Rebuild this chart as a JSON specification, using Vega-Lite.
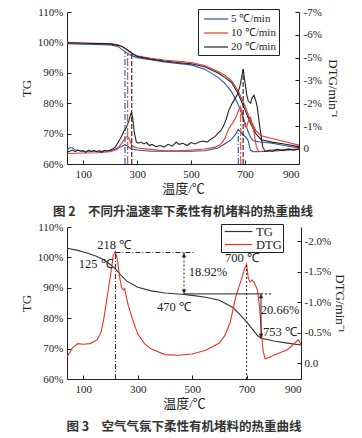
{
  "$schema": "https://vega.github.io/schema/vega-lite/v6.json",
  "padding": {"left": 20, "top": 6, "right": 6, "bottom": 0},
  "spacing": 2,
  "background": "white",
  "resolve": {"scale": {"color": "independent", "strokeDash": "independent", "shape": "independent", "x": "independent"}, "legend": {"color": "independent", "strokeDash": "independent", "shape": "independent"}},
  "config": {
    "view": {"stroke": null},
    "axis": {"labelFont": "Liberation Serif", "labelFontSize": 11, "labelColor": "#222", "titleFont": "Liberation Serif, Noto Sans CJK SC", "titleFontSize": 13, "titleFontWeight": "normal", "titleColor": "#222", "domainColor": "#222", "tickColor": "#222", "grid": false, "tickSize": -4, "labelPadding": 8},
    "legend": {"labelFont": "Liberation Serif", "labelFontSize": 12, "labelColor": "#222", "symbolStrokeWidth": 1.2, "rowPadding": 1, "strokeColor": "#222", "fillColor": "white"},
    "title": {"font": "Noto Sans CJK SC", "fontSize": 12.5, "fontWeight": "bold", "color": "#333"}
  },
  "datasets": {
    "tg2": [
      {"rate":"5 ℃/min","T":40,"TG":99.6},{"rate":"5 ℃/min","T":100,"TG":99.4},{"rate":"5 ℃/min","T":150,"TG":99.3},{"rate":"5 ℃/min","T":200,"TG":99.2},{"rate":"5 ℃/min","T":230,"TG":98.6},{"rate":"5 ℃/min","T":250,"TG":97.3},{"rate":"5 ℃/min","T":270,"TG":96.0},{"rate":"5 ℃/min","T":300,"TG":95.0},{"rate":"5 ℃/min","T":350,"TG":94.3},{"rate":"5 ℃/min","T":400,"TG":93.6},{"rate":"5 ℃/min","T":450,"TG":93.1},{"rate":"5 ℃/min","T":500,"TG":92.6},{"rate":"5 ℃/min","T":550,"TG":91.2},{"rate":"5 ℃/min","T":600,"TG":88.5},{"rate":"5 ℃/min","T":625,"TG":86.5},{"rate":"5 ℃/min","T":650,"TG":83.8},{"rate":"5 ℃/min","T":675,"TG":79.5},{"rate":"5 ℃/min","T":690,"TG":76.0},{"rate":"5 ℃/min","T":700,"TG":73.6},{"rate":"5 ℃/min","T":710,"TG":71.0},{"rate":"5 ℃/min","T":720,"TG":68.8},{"rate":"5 ℃/min","T":730,"TG":67.7},{"rate":"5 ℃/min","T":750,"TG":67.3},{"rate":"5 ℃/min","T":800,"TG":66.8},{"rate":"5 ℃/min","T":850,"TG":66.0},{"rate":"5 ℃/min","T":900,"TG":65.3},
      {"rate":"10 ℃/min","T":40,"TG":100.0},{"rate":"10 ℃/min","T":100,"TG":99.8},{"rate":"10 ℃/min","T":150,"TG":99.7},{"rate":"10 ℃/min","T":200,"TG":99.6},{"rate":"10 ℃/min","T":230,"TG":99.2},{"rate":"10 ℃/min","T":250,"TG":98.3},{"rate":"10 ℃/min","T":265,"TG":97.3},{"rate":"10 ℃/min","T":280,"TG":96.3},{"rate":"10 ℃/min","T":300,"TG":95.6},{"rate":"10 ℃/min","T":350,"TG":94.8},{"rate":"10 ℃/min","T":400,"TG":94.2},{"rate":"10 ℃/min","T":450,"TG":93.8},{"rate":"10 ℃/min","T":500,"TG":93.4},{"rate":"10 ℃/min","T":550,"TG":92.4},{"rate":"10 ℃/min","T":600,"TG":90.4},{"rate":"10 ℃/min","T":625,"TG":89.2},{"rate":"10 ℃/min","T":650,"TG":87.4},{"rate":"10 ℃/min","T":675,"TG":84.0},{"rate":"10 ℃/min","T":700,"TG":79.0},{"rate":"10 ℃/min","T":720,"TG":74.5},{"rate":"10 ℃/min","T":740,"TG":71.0},{"rate":"10 ℃/min","T":760,"TG":69.3},{"rate":"10 ℃/min","T":800,"TG":68.4},{"rate":"10 ℃/min","T":850,"TG":67.3},{"rate":"10 ℃/min","T":900,"TG":66.2},
      {"rate":"20 ℃/min","T":40,"TG":99.9},{"rate":"20 ℃/min","T":100,"TG":99.7},{"rate":"20 ℃/min","T":150,"TG":99.6},{"rate":"20 ℃/min","T":200,"TG":99.5},{"rate":"20 ℃/min","T":240,"TG":98.8},{"rate":"20 ℃/min","T":260,"TG":97.8},{"rate":"20 ℃/min","T":280,"TG":96.5},{"rate":"20 ℃/min","T":300,"TG":95.4},{"rate":"20 ℃/min","T":350,"TG":94.5},{"rate":"20 ℃/min","T":400,"TG":93.9},{"rate":"20 ℃/min","T":450,"TG":93.4},{"rate":"20 ℃/min","T":500,"TG":93.0},{"rate":"20 ℃/min","T":550,"TG":92.0},{"rate":"20 ℃/min","T":600,"TG":89.9},{"rate":"20 ℃/min","T":625,"TG":88.5},{"rate":"20 ℃/min","T":650,"TG":86.8},{"rate":"20 ℃/min","T":675,"TG":83.0},{"rate":"20 ℃/min","T":700,"TG":77.8},{"rate":"20 ℃/min","T":720,"TG":73.5},{"rate":"20 ℃/min","T":740,"TG":70.0},{"rate":"20 ℃/min","T":760,"TG":68.0},{"rate":"20 ℃/min","T":800,"TG":67.2},{"rate":"20 ℃/min","T":850,"TG":66.5},{"rate":"20 ℃/min","T":900,"TG":65.7}
    ],
    "dtg2": [
      {"rate":"5 ℃/min","T":40,"DTG":0.05},{"rate":"5 ℃/min","T":50,"DTG":-0.05},{"rate":"5 ℃/min","T":60,"DTG":-0.05},{"rate":"5 ℃/min","T":70,"DTG":0.05},{"rate":"5 ℃/min","T":100,"DTG":0.1},{"rate":"5 ℃/min","T":150,"DTG":0.1},{"rate":"5 ℃/min","T":200,"DTG":0.08},{"rate":"5 ℃/min","T":220,"DTG":0.0},{"rate":"5 ℃/min","T":240,"DTG":-0.1},{"rate":"5 ℃/min","T":255,"DTG":-0.18},{"rate":"5 ℃/min","T":265,"DTG":-0.12},{"rate":"5 ℃/min","T":280,"DTG":0.0},{"rate":"5 ℃/min","T":300,"DTG":0.05},{"rate":"5 ℃/min","T":350,"DTG":0.1},{"rate":"5 ℃/min","T":400,"DTG":0.1},{"rate":"5 ℃/min","T":500,"DTG":0.1},{"rate":"5 ℃/min","T":550,"DTG":0.08},{"rate":"5 ℃/min","T":600,"DTG":-0.04},{"rate":"5 ℃/min","T":630,"DTG":-0.26},{"rate":"5 ℃/min","T":650,"DTG":-0.42},{"rate":"5 ℃/min","T":665,"DTG":-0.65},{"rate":"5 ℃/min","T":675,"DTG":-0.85},{"rate":"5 ℃/min","T":685,"DTG":-0.72},{"rate":"5 ℃/min","T":695,"DTG":-0.6},{"rate":"5 ℃/min","T":705,"DTG":-0.5},{"rate":"5 ℃/min","T":712,"DTG":-0.35},{"rate":"5 ℃/min","T":720,"DTG":0.05},{"rate":"5 ℃/min","T":730,"DTG":0.12},{"rate":"5 ℃/min","T":800,"DTG":0.1},{"rate":"5 ℃/min","T":850,"DTG":0.05},{"rate":"5 ℃/min","T":900,"DTG":0.02},
      {"rate":"10 ℃/min","T":40,"DTG":0.2},{"rate":"10 ℃/min","T":100,"DTG":0.18},{"rate":"10 ℃/min","T":150,"DTG":0.17},{"rate":"10 ℃/min","T":200,"DTG":0.12},{"rate":"10 ℃/min","T":225,"DTG":0.03},{"rate":"10 ℃/min","T":240,"DTG":-0.2},{"rate":"10 ℃/min","T":250,"DTG":-0.38},{"rate":"10 ℃/min","T":260,"DTG":-0.52},{"rate":"10 ℃/min","T":265,"DTG":-0.55},{"rate":"10 ℃/min","T":272,"DTG":-0.4},{"rate":"10 ℃/min","T":280,"DTG":-0.15},{"rate":"10 ℃/min","T":300,"DTG":-0.04},{"rate":"10 ℃/min","T":350,"DTG":0.02},{"rate":"10 ℃/min","T":400,"DTG":0.08},{"rate":"10 ℃/min","T":450,"DTG":0.08},{"rate":"10 ℃/min","T":500,"DTG":0.05},{"rate":"10 ℃/min","T":550,"DTG":0.0},{"rate":"10 ℃/min","T":590,"DTG":-0.08},{"rate":"10 ℃/min","T":610,"DTG":-0.2},{"rate":"10 ℃/min","T":625,"DTG":-0.45},{"rate":"10 ℃/min","T":640,"DTG":-0.9},{"rate":"10 ℃/min","T":655,"DTG":-1.15},{"rate":"10 ℃/min","T":665,"DTG":-1.35},{"rate":"10 ℃/min","T":675,"DTG":-1.65},{"rate":"10 ℃/min","T":682,"DTG":-1.85},{"rate":"10 ℃/min","T":690,"DTG":-1.6},{"rate":"10 ℃/min","T":700,"DTG":-1.0},{"rate":"10 ℃/min","T":705,"DTG":-0.95},{"rate":"10 ℃/min","T":712,"DTG":-1.2},{"rate":"10 ℃/min","T":720,"DTG":-1.37},{"rate":"10 ℃/min","T":727,"DTG":-1.1},{"rate":"10 ℃/min","T":735,"DTG":-0.6},{"rate":"10 ℃/min","T":742,"DTG":-0.1},{"rate":"10 ℃/min","T":750,"DTG":0.12},{"rate":"10 ℃/min","T":800,"DTG":0.05},{"rate":"10 ℃/min","T":900,"DTG":0.0},
      {"rate":"20 ℃/min","T":40,"DTG":0.15},{"rate":"20 ℃/min","T":50,"DTG":0.1},{"rate":"20 ℃/min","T":60,"DTG":0.05},{"rate":"20 ℃/min","T":70,"DTG":0.12},{"rate":"20 ℃/min","T":80,"DTG":0.05},{"rate":"20 ℃/min","T":90,"DTG":0.1},{"rate":"20 ℃/min","T":100,"DTG":0.08},{"rate":"20 ℃/min","T":110,"DTG":0.15},{"rate":"20 ℃/min","T":120,"DTG":0.05},{"rate":"20 ℃/min","T":130,"DTG":0.12},{"rate":"20 ℃/min","T":140,"DTG":0.06},{"rate":"20 ℃/min","T":150,"DTG":0.12},{"rate":"20 ℃/min","T":160,"DTG":0.08},{"rate":"20 ℃/min","T":170,"DTG":0.14},{"rate":"20 ℃/min","T":180,"DTG":0.06},{"rate":"20 ℃/min","T":190,"DTG":0.1},{"rate":"20 ℃/min","T":200,"DTG":0.05},{"rate":"20 ℃/min","T":210,"DTG":0.0},{"rate":"20 ℃/min","T":220,"DTG":-0.1},{"rate":"20 ℃/min","T":230,"DTG":-0.3},{"rate":"20 ℃/min","T":240,"DTG":-0.5},{"rate":"20 ℃/min","T":250,"DTG":-0.75},{"rate":"20 ℃/min","T":260,"DTG":-0.95},{"rate":"20 ℃/min","T":270,"DTG":-1.25},{"rate":"20 ℃/min","T":278,"DTG":-1.58},{"rate":"20 ℃/min","T":283,"DTG":-1.4},{"rate":"20 ℃/min","T":290,"DTG":-0.7},{"rate":"20 ℃/min","T":297,"DTG":-0.3},{"rate":"20 ℃/min","T":305,"DTG":-0.25},{"rate":"20 ℃/min","T":315,"DTG":-0.3},{"rate":"20 ℃/min","T":325,"DTG":-0.22},{"rate":"20 ℃/min","T":335,"DTG":-0.28},{"rate":"20 ℃/min","T":345,"DTG":-0.15},{"rate":"20 ℃/min","T":355,"DTG":-0.2},{"rate":"20 ℃/min","T":370,"DTG":-0.1},{"rate":"20 ℃/min","T":385,"DTG":-0.15},{"rate":"20 ℃/min","T":400,"DTG":-0.08},{"rate":"20 ℃/min","T":415,"DTG":-0.2},{"rate":"20 ℃/min","T":430,"DTG":-0.12},{"rate":"20 ℃/min","T":445,"DTG":-0.3},{"rate":"20 ℃/min","T":455,"DTG":-0.2},{"rate":"20 ℃/min","T":470,"DTG":-0.25},{"rate":"20 ℃/min","T":485,"DTG":-0.15},{"rate":"20 ℃/min","T":500,"DTG":-0.28},{"rate":"20 ℃/min","T":515,"DTG":-0.22},{"rate":"20 ℃/min","T":530,"DTG":-0.3},{"rate":"20 ℃/min","T":545,"DTG":-0.35},{"rate":"20 ℃/min","T":560,"DTG":-0.3},{"rate":"20 ℃/min","T":575,"DTG":-0.45},{"rate":"20 ℃/min","T":590,"DTG":-0.55},{"rate":"20 ℃/min","T":600,"DTG":-0.7},{"rate":"20 ℃/min","T":610,"DTG":-0.8},{"rate":"20 ℃/min","T":620,"DTG":-1.0},{"rate":"20 ℃/min","T":630,"DTG":-1.3},{"rate":"20 ℃/min","T":640,"DTG":-1.7},{"rate":"20 ℃/min","T":650,"DTG":-1.95},{"rate":"20 ℃/min","T":660,"DTG":-2.15},{"rate":"20 ℃/min","T":670,"DTG":-2.35},{"rate":"20 ℃/min","T":680,"DTG":-2.7},{"rate":"20 ℃/min","T":687,"DTG":-3.1},{"rate":"20 ℃/min","T":693,"DTG":-3.5},{"rate":"20 ℃/min","T":700,"DTG":-2.9},{"rate":"20 ℃/min","T":706,"DTG":-2.4},{"rate":"20 ℃/min","T":712,"DTG":-2.1},{"rate":"20 ℃/min","T":720,"DTG":-2.0},{"rate":"20 ℃/min","T":727,"DTG":-2.25},{"rate":"20 ℃/min","T":733,"DTG":-2.35},{"rate":"20 ℃/min","T":740,"DTG":-2.1},{"rate":"20 ℃/min","T":745,"DTG":-1.85},{"rate":"20 ℃/min","T":752,"DTG":-1.2},{"rate":"20 ℃/min","T":758,"DTG":-0.7},{"rate":"20 ℃/min","T":765,"DTG":-0.1},{"rate":"20 ℃/min","T":775,"DTG":0.12},{"rate":"20 ℃/min","T":790,"DTG":0.05},{"rate":"20 ℃/min","T":800,"DTG":0.1},{"rate":"20 ℃/min","T":820,"DTG":0.02},{"rate":"20 ℃/min","T":840,"DTG":0.08},{"rate":"20 ℃/min","T":860,"DTG":0.0},{"rate":"20 ℃/min","T":880,"DTG":0.05},{"rate":"20 ℃/min","T":900,"DTG":0.0}
    ],
    "rulesL": [
      {"rate":"5 ℃/min","style":"dashdot","T":255,"a":60,"b":97.0},{"rate":"10 ℃/min","style":"longdashdot","T":265,"a":60,"b":96.8},{"rate":"20 ℃/min","style":"dash","T":280,"a":60,"b":96.3}
    ],
    "rulesR": [
      {"rate":"5 ℃/min","style":"dashdot","T":675,"a":0.66,"b":-0.85},{"rate":"10 ℃/min","style":"longdashdot","T":684,"a":0.66,"b":-1.8},{"rate":"20 ℃/min","style":"dash","T":693,"a":0.66,"b":-3.5}
    ],
    "tg3": [
      {"series":"TG","T":40,"TG":103.0},{"series":"TG","T":80,"TG":102.3},{"series":"TG","T":100,"TG":101.8},{"series":"TG","T":125,"TG":101.1},{"series":"TG","T":150,"TG":100.3},{"series":"TG","T":175,"TG":99.2},{"series":"TG","T":200,"TG":97.6},{"series":"TG","T":218,"TG":96.2},{"series":"TG","T":240,"TG":94.0},{"series":"TG","T":260,"TG":92.2},{"series":"TG","T":300,"TG":90.2},{"series":"TG","T":350,"TG":89.0},{"series":"TG","T":400,"TG":88.3},{"series":"TG","T":470,"TG":87.8},{"series":"TG","T":500,"TG":87.5},{"series":"TG","T":550,"TG":86.9},{"series":"TG","T":600,"TG":85.9},{"series":"TG","T":650,"TG":83.5},{"series":"TG","T":680,"TG":80.8},{"series":"TG","T":700,"TG":78.8},{"series":"TG","T":720,"TG":76.6},{"series":"TG","T":740,"TG":74.3},{"series":"TG","T":753,"TG":73.4},{"series":"TG","T":780,"TG":72.9},{"series":"TG","T":800,"TG":72.5},{"series":"TG","T":850,"TG":71.8},{"series":"TG","T":900,"TG":71.2}
    ],
    "dtg3": [
      {"series":"DTG","T":40,"DTG":-0.1},{"series":"DTG","T":60,"DTG":-0.25},{"series":"DTG","T":80,"DTG":-0.32},{"series":"DTG","T":100,"DTG":-0.31},{"series":"DTG","T":125,"DTG":-0.32},{"series":"DTG","T":150,"DTG":-0.38},{"series":"DTG","T":165,"DTG":-0.5},{"series":"DTG","T":175,"DTG":-0.72},{"series":"DTG","T":190,"DTG":-1.15},{"series":"DTG","T":200,"DTG":-1.44},{"series":"DTG","T":210,"DTG":-1.77},{"series":"DTG","T":218,"DTG":-1.83},{"series":"DTG","T":225,"DTG":-1.7},{"series":"DTG","T":232,"DTG":-1.45},{"series":"DTG","T":240,"DTG":-1.25},{"series":"DTG","T":247,"DTG":-1.2},{"series":"DTG","T":252,"DTG":-1.22},{"series":"DTG","T":258,"DTG":-1.08},{"series":"DTG","T":265,"DTG":-0.95},{"series":"DTG","T":275,"DTG":-0.8},{"series":"DTG","T":290,"DTG":-0.6},{"series":"DTG","T":300,"DTG":-0.48},{"series":"DTG","T":325,"DTG":-0.32},{"series":"DTG","T":350,"DTG":-0.23},{"series":"DTG","T":400,"DTG":-0.14},{"series":"DTG","T":450,"DTG":-0.13},{"series":"DTG","T":500,"DTG":-0.15},{"series":"DTG","T":550,"DTG":-0.21},{"series":"DTG","T":600,"DTG":-0.33},{"series":"DTG","T":620,"DTG":-0.45},{"series":"DTG","T":640,"DTG":-0.67},{"series":"DTG","T":660,"DTG":-1.08},{"series":"DTG","T":680,"DTG":-1.36},{"series":"DTG","T":693,"DTG":-1.55},{"series":"DTG","T":700,"DTG":-1.62},{"series":"DTG","T":706,"DTG":-1.4},{"series":"DTG","T":712,"DTG":-1.33},{"series":"DTG","T":720,"DTG":-1.36},{"series":"DTG","T":728,"DTG":-1.32},{"series":"DTG","T":740,"DTG":-1.2},{"series":"DTG","T":748,"DTG":-0.9},{"series":"DTG","T":753,"DTG":-0.6},{"series":"DTG","T":760,"DTG":-0.22},{"series":"DTG","T":768,"DTG":-0.07},{"series":"DTG","T":780,"DTG":-0.09},{"series":"DTG","T":800,"DTG":-0.13},{"series":"DTG","T":850,"DTG":-0.22},{"series":"DTG","T":890,"DTG":-0.38},{"series":"DTG","T":893,"DTG":-0.36},{"series":"DTG","T":900,"DTG":-0.31}
    ],
    "lines3": [
      {"T":218,"T2":218,"a":60,"b":101.6,"style":"dashdot"},
      {"T":218,"T2":510,"a":101.6,"b":101.6,"style":"dashdot"},
      {"T":470,"T2":470,"a":101.6,"b":88.0,"style":"dot"},
      {"T":470,"T2":753,"a":88.0,"b":88.0,"style":"solid"},
      {"T":753,"T2":797,"a":88.0,"b":88.0,"style":"dot"},
      {"T":753,"T2":753,"a":88.0,"b":73.4,"style":"solid"},
      {"T":700,"T2":700,"a":60,"b":97.8,"style":"dot"}
    ],
    "arrows3": [
      {"T":470,"TG":100.7,"dir":"up"},{"T":470,"TG":88.8,"dir":"down"},
      {"T":753,"TG":87.2,"dir":"up"},{"T":753,"TG":74.2,"dir":"down"}
    ],
    "texts3": [
      {"T":213,"TG":104.1,"label":"218 ℃"},
      {"T":145,"TG":97.9,"label":"125 ℃"},
      {"T":433,"TG":83.7,"label":"470 ℃"},
      {"T":558,"TG":95.2,"label":"18.92%"},
      {"T":683,"TG":99.8,"label":"700 ℃"},
      {"T":823,"TG":82.7,"label":"20.66%"},
      {"T":823,"TG":75.5,"label":"753 ℃"}
    ]
  },
  "vconcat": [
    {
      "width": 232,
      "height": 152,
      "title": {"text": "图 2　不同升温速率下柔性有机堵料的热重曲线", "orient": "bottom", "offset": 11},
      "resolve": {"scale": {"y": "independent"}},
      "layer": [
        {
          "data": {"name": "tg2"},
          "mark": {"type": "line", "strokeWidth": 1.1, "clip": true},
          "encoding": {
            "x": {"field": "T", "type": "quantitative", "scale": {"domain": [40, 900], "nice": false, "zero": false}, "axis": {"title": "温度/℃", "values": [100,200,300,400,500,600,700,800,900], "titlePadding": 3}},
            "y": {"field": "TG", "type": "quantitative", "scale": {"domain": [60, 110], "nice": false, "zero": false}, "axis": {"title": "TG", "values": [60,70,80,90,100,110], "labelExpr": "datum.value + '%'", "titlePadding": 4}},
            "color": {"field": "rate", "type": "nominal", "scale": {"domain": ["5 ℃/min", "10 ℃/min", "20 ℃/min"], "range": ["#2f4fa8", "#e8392b", "#222222"]}, "legend": {"title": null, "orient": "none", "legendX": 131, "legendY": -3, "strokeColor": "#222", "fillColor": "white", "padding": 3, "symbolType": "M-2,0H2", "symbolSize": 144, "symbolOffset": 8, "labelOffset": 8, "labelFontSize": 11, "rowPadding": 2, "labelExpr": "datum.label === '5 ℃/min' ? '\u20075 ℃/min' : datum.label"}},
            "detail": {"field": "rate"}
          }
        },
        {
          "data": {"name": "dtg2"},
          "mark": {"type": "line", "strokeWidth": 1.1, "clip": true},
          "encoding": {
            "x": {"field": "T", "type": "quantitative", "scale": {"domain": [40, 900], "nice": false, "zero": false}},
            "y": {"field": "DTG", "type": "quantitative", "scale": {"domain": [0.66, -6], "nice": false, "zero": false}, "axis": {"orient": "right", "title": "DTG/min⁻¹", "values": [0,-1,-2,-3,-4,-5,-6], "labelExpr": "datum.value == 0 ? '0' : (datum.value <= -4 ? (datum.value - 1) : datum.value) + '%'", "titlePadding": 4}},
            "color": {"field": "rate", "type": "nominal"}
          }
        },
        {
          "data": {"name": "rulesL"},
          "mark": {"type": "rule", "strokeWidth": 1.1},
          "encoding": {
            "x": {"field": "T", "type": "quantitative", "scale": {"domain": [40, 900], "nice": false, "zero": false}},
            "y": {"field": "a", "type": "quantitative", "scale": {"domain": [60, 110], "nice": false, "zero": false}, "axis": null},
            "y2": {"field": "b"},
            "color": {"field": "rate", "type": "nominal"},
            "strokeDash": {"field": "style", "type": "nominal", "scale": {"domain": ["dashdot", "longdashdot", "dash"], "range": [[6,2,1,2],[8,2,2,2],[5,2]]}, "legend": null}
          }
        },
        {
          "data": {"name": "rulesR"},
          "mark": {"type": "rule", "strokeWidth": 1.1},
          "encoding": {
            "x": {"field": "T", "type": "quantitative", "scale": {"domain": [40, 900], "nice": false, "zero": false}},
            "y": {"field": "a", "type": "quantitative", "scale": {"domain": [0.66, -6], "nice": false, "zero": false}, "axis": null},
            "y2": {"field": "b"},
            "color": {"field": "rate", "type": "nominal"},
            "strokeDash": {"field": "style", "type": "nominal", "legend": null}
          }
        }
      ]
    },
    {
      "width": 234,
      "height": 152,
      "title": {"text": "图 3　空气气氛下柔性有机堵料的热重曲线", "orient": "bottom", "offset": 11},
      "resolve": {"scale": {"y": "independent"}},
      "layer": [
        {
          "data": {"name": "tg3"},
          "mark": {"type": "line", "strokeWidth": 1.1, "clip": true},
          "encoding": {
            "x": {"field": "T", "type": "quantitative", "scale": {"domain": [40, 900], "nice": false, "zero": false}, "axis": {"title": "温度/℃", "values": [100,200,300,400,500,600,700,800,900], "titlePadding": 3}},
            "y": {"field": "TG", "type": "quantitative", "scale": {"domain": [60, 110], "nice": false, "zero": false}, "axis": {"title": "TG", "values": [60,70,80,90,100,110], "labelExpr": "datum.value + '%'", "titlePadding": 4}},
            "color": {"field": "series", "type": "nominal", "scale": {"domain": ["TG", "DTG"], "range": ["#333333", "#ee3322"]}, "legend": {"title": null, "orient": "none", "legendX": 154, "legendY": -3, "strokeColor": "#222", "fillColor": "white", "padding": 1, "symbolType": "M-2.5,0H2.5", "symbolSize": 121, "symbolOffset": 10, "labelOffset": 11, "labelFontSize": 12.5, "rowPadding": 0}}
          }
        },
        {
          "data": {"name": "dtg3"},
          "mark": {"type": "line", "strokeWidth": 1.1, "clip": true},
          "encoding": {
            "x": {"field": "T", "type": "quantitative", "scale": {"domain": [40, 900], "nice": false, "zero": false}},
            "y": {"field": "DTG", "type": "quantitative", "scale": {"domain": [0.26, -2.23], "nice": false, "zero": false}, "axis": {"orient": "right", "title": "DTG/min⁻¹", "values": [0,-0.5,-1,-1.5,-2], "labelExpr": "datum.value == 0 ? '0.0' : '-' + format(-datum.value, '.1f') + '%'", "labelPadding": 7, "titlePadding": 2}},
            "color": {"field": "series", "type": "nominal"}
          }
        },
        {
          "data": {"name": "lines3"},
          "mark": {"type": "rule", "strokeWidth": 1, "color": "#222"},
          "encoding": {
            "x": {"field": "T", "type": "quantitative", "scale": {"domain": [40, 900], "nice": false, "zero": false}},
            "x2": {"field": "T2"},
            "y": {"field": "a", "type": "quantitative", "scale": {"domain": [60, 110], "nice": false, "zero": false}, "axis": null},
            "y2": {"field": "b"},
            "strokeDash": {"field": "style", "type": "nominal", "scale": {"domain": ["dashdot", "dot", "solid"], "range": [[5,2,1,2],[2,2],[1,0]]}, "legend": null}
          }
        },
        {
          "data": {"name": "arrows3"},
          "mark": {"type": "point", "filled": true, "size": 22, "color": "#222", "opacity": 1},
          "encoding": {
            "x": {"field": "T", "type": "quantitative", "scale": {"domain": [40, 900], "nice": false, "zero": false}},
            "y": {"field": "TG", "type": "quantitative", "scale": {"domain": [60, 110], "nice": false, "zero": false}, "axis": null},
            "shape": {"field": "dir", "type": "nominal", "scale": {"domain": ["up", "down"], "range": ["triangle-up", "triangle-down"]}, "legend": null}
          }
        },
        {
          "data": {"name": "texts3"},
          "mark": {"type": "text", "font": "Liberation Serif", "fontSize": 12.5, "color": "#222", "baseline": "middle", "align": "center"},
          "encoding": {
            "x": {"field": "T", "type": "quantitative", "scale": {"domain": [40, 900], "nice": false, "zero": false}},
            "y": {"field": "TG", "type": "quantitative", "scale": {"domain": [60, 110], "nice": false, "zero": false}, "axis": null},
            "text": {"field": "label"}
          }
        }
      ]
    }
  ]
}
